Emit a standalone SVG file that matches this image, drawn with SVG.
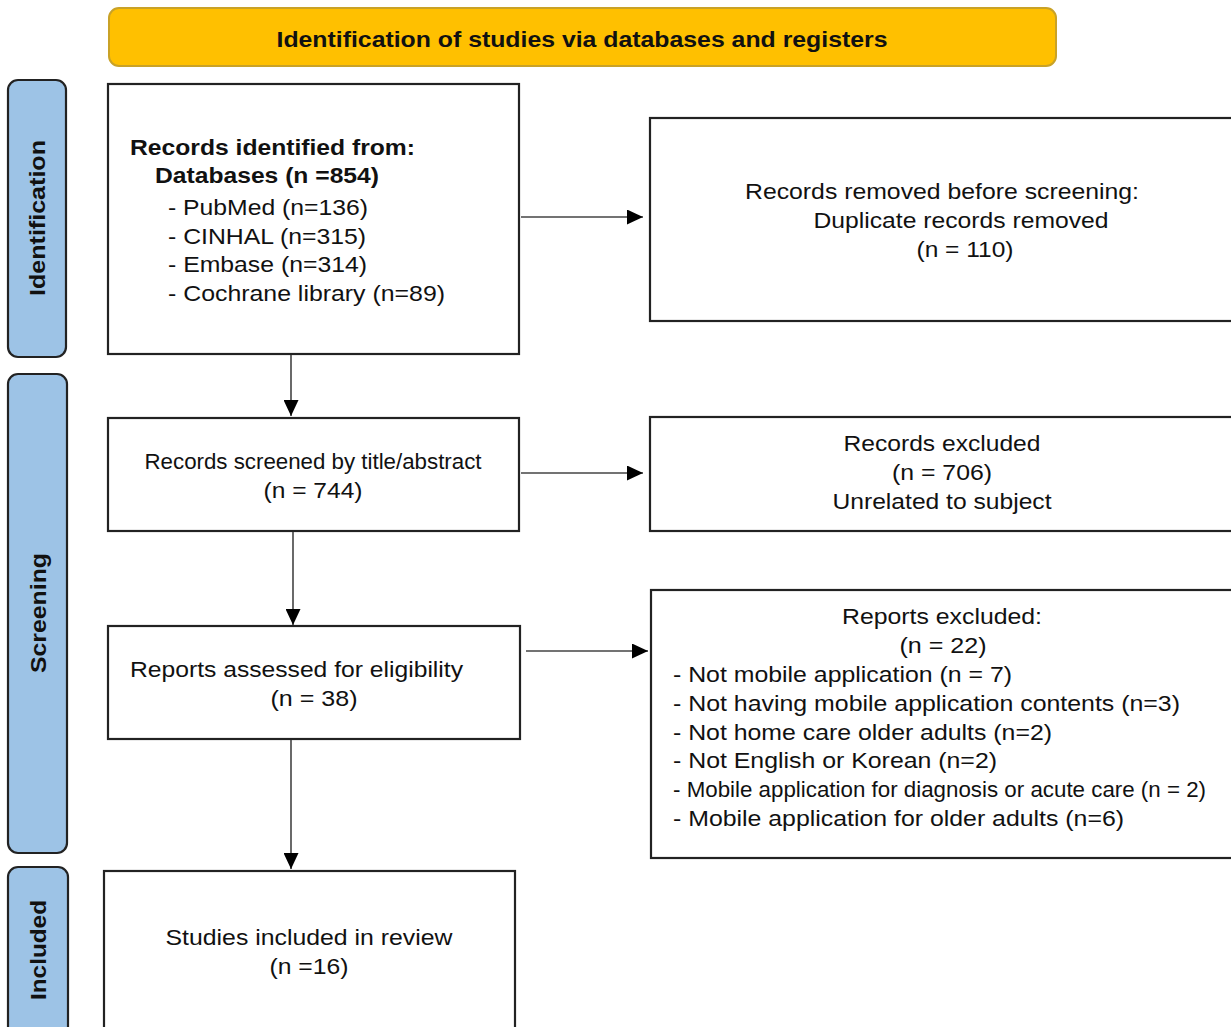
<svg xmlns="http://www.w3.org/2000/svg" width="1231" height="1027" viewBox="0 0 1231 1027">
<style>
text{font-family:"Liberation Sans",Arial,sans-serif;font-size:22px;fill:#111}
.b{font-weight:bold}
.box{fill:#fff;stroke:#222;stroke-width:2.2}
.side{fill:#9DC3E6;stroke:#222;stroke-width:2.2}
.c{text-anchor:middle}
.conn line{stroke:#444;stroke-width:1.6}
</style>
<defs>
<marker id="ah" markerWidth="16" markerHeight="15" refX="16" refY="7.5" orient="auto" markerUnits="userSpaceOnUse" viewBox="0 0 16 15">
<path d="M0,0 L16,7.5 L0,15 z" fill="#000"/>
</marker>
</defs>
<rect width="1231" height="1027" fill="#fff"/>
<g id="header">
<rect x="109" y="8" width="947" height="58" rx="10" fill="#FFC000" stroke="#C9A227" stroke-width="2"/>
<text class="b c" x="582" y="47" textLength="611" lengthAdjust="spacingAndGlyphs">Identification of studies via databases and registers</text>
</g>
<g id="side-identification">
<rect class="side" x="8" y="80" width="58" height="277" rx="10"/>
<text class="b c" transform="translate(45,218) rotate(-90)" textLength="156" lengthAdjust="spacingAndGlyphs">Identification</text>
</g>
<g id="side-screening">
<rect class="side" x="8" y="374" width="59" height="479" rx="10"/>
<text class="b c" transform="translate(46,613) rotate(-90)" textLength="120" lengthAdjust="spacingAndGlyphs">Screening</text>
</g>
<g id="side-included">
<rect class="side" x="8" y="867" width="60" height="175" rx="10"/>
<text class="b c" transform="translate(46,950) rotate(-90)" textLength="100" lengthAdjust="spacingAndGlyphs">Included</text>
</g>
<g id="records-identified">
<rect class="box" x="108" y="84" width="411" height="270"/>
<text class="b" x="130" y="155" textLength="285" lengthAdjust="spacingAndGlyphs">Records identified from:</text>
<text class="b" x="155" y="183" textLength="224" lengthAdjust="spacingAndGlyphs">Databases (n =854)</text>
<text x="168" y="215" textLength="200" lengthAdjust="spacingAndGlyphs">- PubMed (n=136)</text>
<text x="168" y="244" textLength="198" lengthAdjust="spacingAndGlyphs">- CINHAL (n=315)</text>
<text x="168" y="272" textLength="199" lengthAdjust="spacingAndGlyphs">- Embase (n=314)</text>
<text x="168" y="301" textLength="277" lengthAdjust="spacingAndGlyphs">- Cochrane library (n=89)</text>
</g>
<g id="records-removed">
<rect class="box" x="650" y="118" width="590" height="203"/>
<text class="c" x="942" y="199" textLength="394" lengthAdjust="spacingAndGlyphs">Records removed before screening:</text>
<text class="c" x="961" y="228" textLength="295" lengthAdjust="spacingAndGlyphs">Duplicate records removed</text>
<text class="c" x="965" y="257" textLength="97" lengthAdjust="spacingAndGlyphs">(n = 110)</text>
</g>
<g id="records-screened">
<rect class="box" x="108" y="418" width="411" height="113"/>
<text class="c" x="313" y="469" textLength="337" lengthAdjust="spacingAndGlyphs">Records screened by title/abstract</text>
<text class="c" x="313" y="498" textLength="99" lengthAdjust="spacingAndGlyphs">(n = 744)</text>
</g>
<g id="records-excluded">
<rect class="box" x="650" y="417" width="590" height="114"/>
<text class="c" x="942" y="451" textLength="197" lengthAdjust="spacingAndGlyphs">Records excluded</text>
<text class="c" x="942" y="480" textLength="100" lengthAdjust="spacingAndGlyphs">(n = 706)</text>
<text class="c" x="942" y="509" textLength="219" lengthAdjust="spacingAndGlyphs">Unrelated to subject</text>
</g>
<g id="reports-assessed">
<rect class="box" x="108" y="626" width="412" height="113"/>
<text x="130" y="677" textLength="333" lengthAdjust="spacingAndGlyphs">Reports assessed for eligibility</text>
<text class="c" x="314" y="706" textLength="87" lengthAdjust="spacingAndGlyphs">(n = 38)</text>
</g>
<g id="reports-excluded">
<rect class="box" x="651" y="590" width="590" height="268"/>
<text class="c" x="942" y="624" textLength="200" lengthAdjust="spacingAndGlyphs">Reports excluded:</text>
<text class="c" x="943" y="653" textLength="87" lengthAdjust="spacingAndGlyphs">(n = 22)</text>
<text x="673" y="682" textLength="339" lengthAdjust="spacingAndGlyphs">- Not mobile application (n = 7)</text>
<text x="673" y="711" textLength="507" lengthAdjust="spacingAndGlyphs">- Not having mobile application contents (n=3)</text>
<text x="673" y="740" textLength="379" lengthAdjust="spacingAndGlyphs">- Not home care older adults (n=2)</text>
<text x="673" y="768" textLength="324" lengthAdjust="spacingAndGlyphs">- Not English or Korean (n=2)</text>
<text x="673" y="797" textLength="533" lengthAdjust="spacingAndGlyphs">- Mobile application for diagnosis or acute care (n = 2)</text>
<text x="673" y="826" textLength="451" lengthAdjust="spacingAndGlyphs">- Mobile application for older adults (n=6)</text>
</g>
<g id="studies-included">
<rect class="box" x="104" y="871" width="411" height="170"/>
<text class="c" x="309" y="945" textLength="287" lengthAdjust="spacingAndGlyphs">Studies included in review</text>
<text class="c" x="309" y="974" textLength="79" lengthAdjust="spacingAndGlyphs">(n =16)</text>
</g>
<g id="connectors" class="conn">
<line x1="521" y1="217" x2="643" y2="217" marker-end="url(#ah)"/>
<line x1="521" y1="473" x2="643" y2="473" marker-end="url(#ah)"/>
<line x1="526" y1="651" x2="648" y2="651" marker-end="url(#ah)"/>
<line x1="291" y1="355" x2="291" y2="416" marker-end="url(#ah)"/>
<line x1="293" y1="532" x2="293" y2="625" marker-end="url(#ah)"/>
<line x1="291" y1="740" x2="291" y2="869" marker-end="url(#ah)"/>
</g>
</svg>
